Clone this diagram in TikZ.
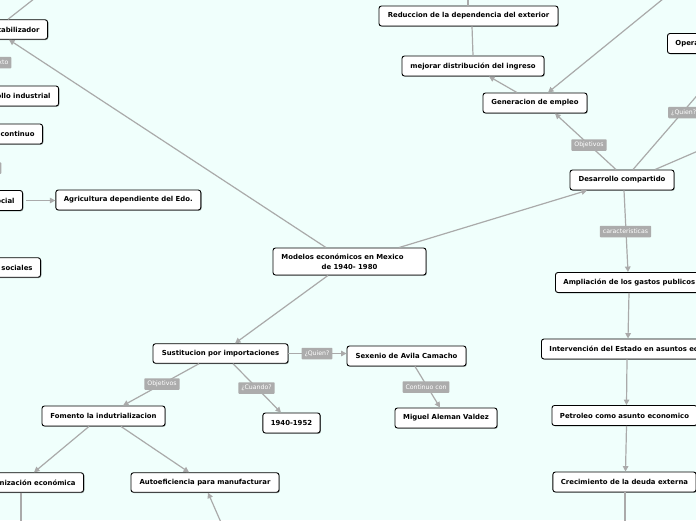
\documentclass[tikz,border=0pt]{standalone}
\usepackage{fontspec}
\setmainfont{DejaVu Sans}
\usetikzlibrary{arrows.meta,calc,shadows}
\definecolor{bgc}{RGB}{240,255,252}
\definecolor{lng}{RGB}{170,170,170}
\definecolor{lblg}{RGB}{172,172,172}
\tikzset{
  box/.style={draw=black, line width=0.9pt, fill=white, rounded corners=2.5pt,
    font=\bfseries\fontsize{6.9}{10}\selectfont, minimum height=20pt,
    inner xsep=8pt, inner ysep=2pt,
    drop shadow={shadow xshift=0.8pt, shadow yshift=-0.8pt, opacity=0.35, fill=black}},
  lbl/.style={fill=lblg, text=white, font=\fontsize{6.2}{7}\selectfont,
    inner xsep=3pt, inner ysep=0pt, minimum height=11.5pt, rounded corners=0.8pt},
  conn/.style={draw=lng, line width=1.2pt},
  arr/.style={conn, -{Triangle[length=5.5pt,width=5.5pt]}}
}
\begin{document}
\begin{tikzpicture}[x=1pt,y=-1pt]
\useasboundingbox (0,0) rectangle (696,520);
\clip (0,0) rectangle (696,520);
\fill[bgc] (0,0) rectangle (696,520);

% nodes
\node[box, minimum width=153pt, minimum height=27pt, align=center] (mod) at (349.5,261.5)
  {Modelos económicos en Mexico\hspace*{14pt}\\de 1940- 1980};
\node[box, minimum width=135pt, minimum height=19.5pt] (sust) at (220.5,353.5) {Sustitucion por importaciones};
\node[box, minimum width=119pt] (sex) at (406.5,356) {Sexenio de Avila Camacho};
\node[box, minimum width=102pt] (mig) at (446,418) {Miguel Aleman Valdez};
\node[box, minimum width=57pt] (y40) at (291.5,423) {1940-1952};
\node[box, minimum width=123pt] (fom) at (103.5,416) {Fomento la indutrializacion};
\node[box, anchor=east, minimum height=19.5pt] (modz) at (84,482.5) {Modernización económica};
\node[box, minimum width=148pt, minimum height=19.5pt] (aut) at (205,482.5) {Autoeficiencia para manufacturar};
\node[box, minimum width=104pt] (des) at (622,180) {Desarrollo compartido};
\node[box, minimum width=104pt] (gen) at (535,103) {Generacion de empleo};
\node[box, minimum width=142pt] (mej) at (473,66) {mejorar distribución del ingreso};
\node[box, minimum width=179pt] (red) at (468.5,16) {Reduccion de la dependencia del exterior};
\node[box, anchor=west] (ope) at (667,43.5) {Operadores};
\node[box, anchor=west] (amp) at (555,282.5) {Ampliación de los gastos publicos};
\node[box, anchor=west] (int) at (541,349) {Intervención del Estado en asuntos economicos};
\node[box, minimum width=143pt] (pet) at (624.5,415.5) {Petroleo como asunto economico};
\node[box, minimum width=143pt] (cre) at (624.5,482) {Crecimiento de la deuda externa};
\node[box, anchor=east, minimum height=19.5pt] (est) at (48,29.5) {Desarrollo estabilizador};
\node[box, anchor=east] (din) at (59,96) {Desarrollo industrial};
\node[box, anchor=east] (cco) at (43,134) {Crecimiento continuo};
\node[box, anchor=east] (soc) at (23,200.5) {Política social};
\node[box, minimum width=145pt] (agr) at (128.3,200) {Agricultura dependiente del Edo.};
\node[box, anchor=east, minimum height=19.5pt] (gso) at (41,267.5) {Gastos sociales};

% free ends
\coordinate (estup) at (45.3,-10);
\coordinate (modzdn) at (21,530);
\coordinate (autin) at (224.3,530);
\coordinate (redup) at (468,-10);
\coordinate (gentop) at (674,-10);
\coordinate (desr1) at (720,69);
\coordinate (desr2) at (720,141.5);
\coordinate (credn) at (625,530);

% connectors
\draw[arr] ($(mod.north)+(-23.5,0)$) -- ($(est.south east)+(-39,0)$);
\draw[conn] ($(est.north east)+(-40,0)$) -- (estup);
\draw[arr] ($(mod.north)+(49.5,0)$) -- ($(des.south)+(-35,0)$);
\draw[arr] ($(mod.south)+(-21.5,0)$) -- ($(sust.north)+(14.5,0)$);
\draw[arr] (sust.east) -- (sust.east -| sex.west);
\draw[arr] ($(sust.south)+(12.5,0)$) -- ($(y40.north)+(-10.5,0)$);
\draw[arr] ($(sust.south)+(-21.5,0)$) -- ($(fom.north)+(19.5,0)$);
\draw[arr] ($(sex.south)+(8.5,0)$) -- ($(mig.north)+(-6,0)$);
\draw[arr] ($(fom.south)+(-14.5,0)$) -- ($(modz.north east)+(-50,0)$);
\draw[arr] ($(fom.south)+(17.5,0)$) -- ($(aut.north)+(-16,0)$);
\draw[conn] ($(modz.south east)+(-63,0)$) -- (modzdn);
\draw[arr] (autin) -- ($(aut.south)+(3,0)$);
\draw[arr] ($(des.north)+(-6,0)$) -- ($(gen.south)+(20,0)$);
\draw[arr] ($(gen.north)+(-18,0)$) -- ($(mej.south)+(16,0)$);
\draw[conn] (mej.north) -- ($(red.south)+(3.5,0)$);
\draw[conn] ($(red.north)+(-0.5,0)$) -- (redup);
\draw[arr] (gentop) -- ($(gen.north)+(13,0)$);
\draw[conn] ($(des.north)+(11,0)$) -- (desr1);
\draw[conn] ($(des.north)+(33,0)$) -- (desr2);
\draw[arr] ($(des.south)+(2,0)$) -- ($(amp.north west)+(73,0)$);
\draw[arr] ($(amp.south west)+(74,0)$) -- ($(int.north west)+(87,0)$);
\draw[arr] ($(int.south west)+(86,0)$) -- ($(pet.north)+(2,0)$);
\draw[arr] ($(pet.south)+(2,0)$) -- ($(cre.north)+(1,0)$);
\draw[conn] ($(cre.south)+(0.5,0)$) -- (credn);
\draw[arr, shorten <=3pt] (soc.east) -- (soc.east -| agr.west);

% labels
\node[lbl] (q1) at (317,353.5) {¿Quien?};
\node[lbl] (q2) at (256.5,388) {¿Cuando?};
\node[lbl] (q3) at (162,384) {Objetivos};
\node[lbl] (q4) at (426,387) {Continuo con};
\node[lbl] (q5) at (589,145) {Objetivos};
\node[lbl] (q6) at (625.5,231.5) {caracteristicas};
\node[lbl, anchor=west] (q7) at (668,112.5) {¿Quien?};
\node[lbl, anchor=east] (q8) at (11.5,62.5) {Contexto};
\node[lbl, anchor=east] (q9) at (1.5,168) {Objetivos};
\end{tikzpicture}
\end{document}
